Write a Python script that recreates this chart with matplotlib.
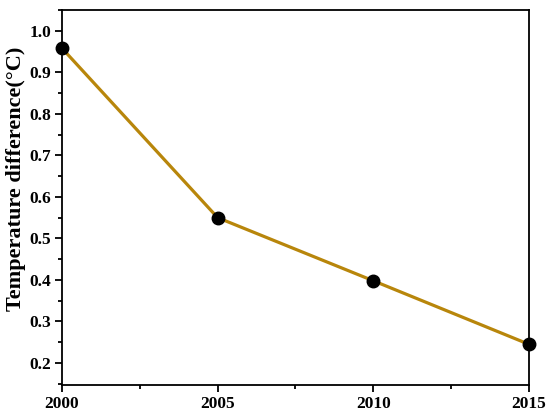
import numpy as np
import matplotlib
matplotlib.use('Agg')
import matplotlib.pyplot as plt
from matplotlib.ticker import MultipleLocator

years = [2000, 2005, 2010, 2015]
temp_diff = [0.958, 0.550, 0.398, 0.245]

plt.rcParams['font.family'] = ['Liberation Serif', 'DejaVu Serif']
plt.rcParams['font.weight'] = 'bold'

fig = plt.figure(figsize=(5.5, 4.18), dpi=100)
ax = fig.add_axes([0.1127, 0.0789, 0.8491, 0.8971])

ax.plot(years, temp_diff, color='#B8860B', lw=2.3, marker='o', ms=9,
        mfc='black', mec='black', clip_on=False, zorder=3)

ax.set_xlim(2000, 2015)
ax.set_ylim(0.147, 1.05)
ax.xaxis.set_major_locator(MultipleLocator(5))
ax.xaxis.set_minor_locator(MultipleLocator(2.5))
ax.yaxis.set_major_locator(MultipleLocator(0.1))
ax.yaxis.set_minor_locator(MultipleLocator(0.05))
ax.yaxis.set_major_formatter(matplotlib.ticker.FormatStrFormatter('%.1f'))

ax.tick_params(which='both', direction='out', width=1.3, labelsize=12.5)
ax.tick_params(which='major', length=5, pad=3)
ax.tick_params(which='minor', length=3)
for s in ax.spines.values():
    s.set_linewidth(1.3)

ax.set_ylabel('Temperature difference(\u00b0C)', fontsize=16, fontweight='bold')
ax.yaxis.set_label_coords(-0.076, 0.549)
for lab in ax.get_xticklabels() + ax.get_yticklabels():
    lab.set_fontweight('bold')

fig.savefig('out.png', dpi=100)
